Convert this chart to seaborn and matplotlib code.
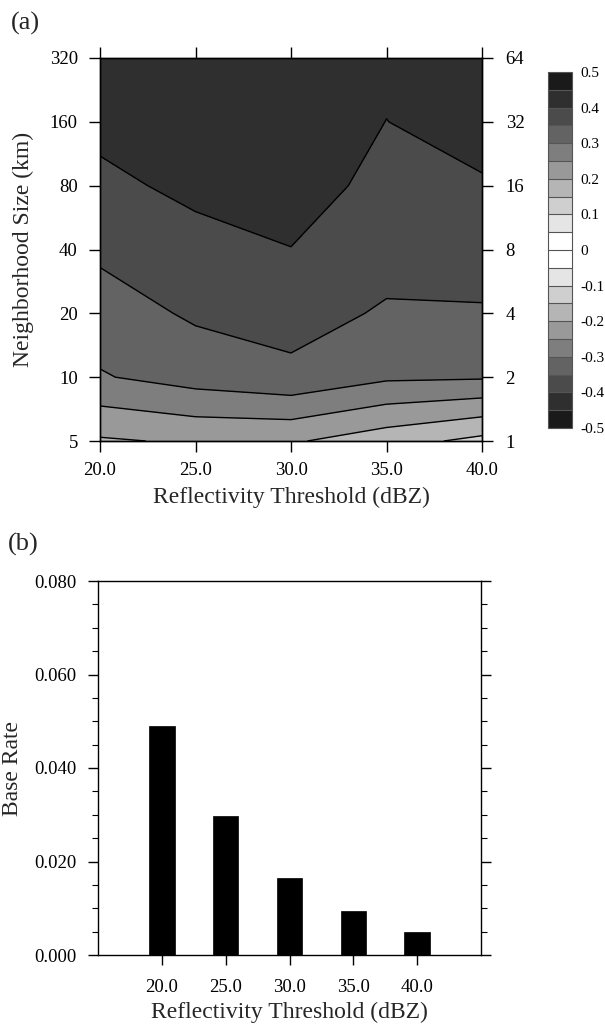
import numpy as np
import pandas as pd
import matplotlib
matplotlib.use("Agg")
import matplotlib.pyplot as plt
import seaborn as sns
from matplotlib.colors import ListedColormap, BoundaryNorm
from matplotlib.ticker import MultipleLocator, FixedLocator

# ---------------- data ----------------
thresholds = [20.0, 25.0, 30.0, 35.0, 40.0]
threshold_labels = ["20.0", "25.0", "30.0", "35.0", "40.0"]
neigh_km = [5, 10, 20, 40, 80, 160, 320]
neigh_pts = [1, 2, 4, 8, 16, 32, 64]

# score at each neighborhood size (5 ... 320 km) for each threshold
score_20 = [0.194, 0.296, 0.327, 0.359, 0.387, 0.415, 0.430]
score_25 = [0.2065, 0.321, 0.357, 0.381, 0.413, 0.430, 0.435]
score_30 = [0.206, 0.3375, 0.3705, 0.399, 0.4225, 0.430, 0.440]
score_35 = [0.171, 0.308, 0.344, 0.370, 0.385, 0.3995, 0.410]
score_40 = [0.136, 0.305, 0.346, 0.370, 0.395, 0.420, 0.430]

base_rate = [0.0489, 0.0297, 0.0164, 0.0094, 0.0050]

contour_levels = [-0.5, -0.45, -0.4, -0.35, -0.3, -0.25, -0.2, -0.15, -0.1, -0.05,
                  0.0, 0.05, 0.1, 0.15, 0.2, 0.25, 0.3, 0.35, 0.4, 0.45, 0.5]
cbar_ticks = [-0.5, -0.4, -0.3, -0.2, -0.1, 0.0, 0.1, 0.2, 0.3, 0.4, 0.5]
# gray value of the bins from -0.5 up to 0 (mirrored for positive)
neg_grays = [26, 47, 75, 99, 126, 153, 181, 207, 229, 255]

# ---------------- style ----------------
sns.set_theme(style="ticks")
plt.rcParams["font.family"] = ["Liberation Serif", "DejaVu Serif"]
plt.rcParams["axes.linewidth"] = 1.0
plt.rcParams["axes.edgecolor"] = "black"
plt.rcParams["xtick.color"] = "black"
plt.rcParams["ytick.color"] = "black"

TICK_FS = 13.5
LABEL_FS = 17
PANEL_FS = 19

fig = plt.figure(figsize=(6.05, 10.34), dpi=100)
W, H = 605.0, 1034.0


def px_axes(left, top, right, bottom):
    return [left / W, 1 - bottom / H, (right - left) / W, (bottom - top) / H]


# ---------------- panel (a) ----------------
ax = fig.add_axes(px_axes(100, 58, 482, 441))
grays = neg_grays + neg_grays[::-1]
colors = [(g / 255, g / 255, g / 255) for g in grays]
cmap = ListedColormap(colors)
norm = BoundaryNorm(contour_levels, cmap.N)

Z = np.column_stack([score_20, score_25, score_30, score_35, score_40])
ylog = np.log2(neigh_km)
X, Y = np.meshgrid(thresholds, ylog)
cf = ax.contourf(X, Y, Z, levels=contour_levels, cmap=cmap, norm=norm)
ax.contour(X, Y, Z, levels=contour_levels, colors="black", linewidths=1.0)

ax.set_xlim(20, 40)
ax.set_ylim(ylog[0], ylog[-1])
ax.set_xticks(thresholds)
ax.set_xticklabels(threshold_labels)
ax.set_yticks(ylog)
ax.set_yticklabels([str(v) for v in neigh_km])
ax.tick_params(direction="out", length=8, width=1, top=True, bottom=True,
               left=True, right=False, labelsize=TICK_FS)
ax.tick_params(axis="y", pad=8)
ax.tick_params(axis="x", pad=7)
ax.set_xlabel("Reflectivity Threshold (dBZ)", fontsize=LABEL_FS, labelpad=6)
ax.set_ylabel("Neighborhood Size (km)", fontsize=LABEL_FS, labelpad=11)

ax2 = ax.twinx()
ax2.set_ylim(ylog[0], ylog[-1])
ax2.set_yticks(ylog)
ax2.set_yticklabels([str(v) for v in neigh_pts])
ax2.tick_params(direction="out", length=8, width=1, labelsize=TICK_FS, pad=9)
for s in ax2.spines.values():
    s.set_linewidth(1.0)

# colorbar
cax = fig.add_axes(px_axes(548, 72, 572, 428))
cb = fig.colorbar(cf, cax=cax, ticks=cbar_ticks, drawedges=True)
cb.minorticks_off()
cb.ax.set_yticklabels(["0" if abs(t) < 1e-9 else f"{t:g}" for t in cbar_ticks])
cb.ax.tick_params(which="both", length=0, labelsize=11, pad=6)
cb.outline.set_edgecolor("#555555")
cb.outline.set_linewidth(0.8)
cb.dividers.set_color("#555555")
cb.dividers.set_linewidth(0.8)

fig.text(11 / W, 1 - 23 / H, "(a)", fontsize=PANEL_FS, va="center", ha="left")

# ---------------- panel (b) ----------------
axb = fig.add_axes(px_axes(98, 581, 481, 955))
df = pd.DataFrame({"threshold": threshold_labels, "rate": base_rate})
sns.barplot(data=df, x="threshold", y="rate", color="black", saturation=1,
            width=0.4, edgecolor="black", linewidth=0.5, ax=axb)
axb.set_xlim(-1, 5)
axb.set_ylim(0, 0.08)
axb.yaxis.set_major_locator(FixedLocator([0.0, 0.02, 0.04, 0.06, 0.08]))
axb.yaxis.set_minor_locator(MultipleLocator(0.005))
axb.set_yticklabels(["0.000", "0.020", "0.040", "0.060", "0.080"])
axb.tick_params(axis="y", which="major", direction="out", length=7.5, width=1,
                left=True, right=True, labelsize=TICK_FS, pad=8)
axb.tick_params(axis="y", which="minor", direction="out", length=4.5, width=0.8,
                left=True, right=True)
axb.tick_params(axis="x", direction="out", length=7.5, width=1, top=False,
                bottom=True, labelsize=TICK_FS, pad=10)
axb.set_xlabel("Reflectivity Threshold (dBZ)", fontsize=LABEL_FS, labelpad=4)
axb.set_ylabel("Base Rate", fontsize=LABEL_FS, labelpad=8)
for s in axb.spines.values():
    s.set_visible(True)
    s.set_linewidth(1.0)

fig.text(8 / W, 1 - 544 / H, "(b)", fontsize=PANEL_FS, va="center", ha="left")

fig.savefig("out.png", dpi=100)
